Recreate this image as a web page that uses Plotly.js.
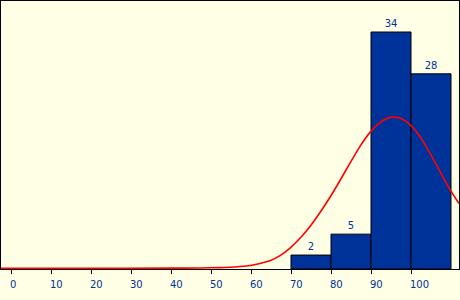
<!DOCTYPE html>
<html>
<head>
<meta charset="utf-8">
<script src="https://cdn.plot.ly/plotly-3.0.1.min.js"></script>
<style>
html,body{margin:0;padding:0;background:#FFFFE5;}
#chart{width:460px;height:300px;}
</style>
</head>
<body>
<div id="chart"></div>
<script>
// Histogram bins (centers), counts
var binCenters = [75, 85, 95, 105];
var binCounts = [2, 5, 34, 28];
var binWidth = [10, 10, 10, 10];

// Fitted curve points
var curveX = [-2.5, 20, 40, 47.25, 52, 54.75, 57.25, 59.75, 62.25, 64.75, 67.25, 69.75, 72.25, 74.75, 77.25, 79.75, 82.25, 84.75, 87.25, 89.75, 92.25, 94.75, 97.25, 99.75, 102.25, 104.75, 107.25, 109.75, 112];
var curveY = [0.1, 0.1, 0.12, 0.15, 0.2, 0.25, 0.35, 0.5, 0.8, 1.19, 1.91, 3.0, 4.4, 6.1, 8.1, 10.3, 12.7, 15.2, 17.6, 19.6, 21.0, 21.75, 21.65, 20.7, 19.0, 16.6, 14.0, 11.4, 9.4];

// Axis ticks
var tickVals = [0, 10, 20, 30, 40, 50, 60, 70, 80, 90, 100];
var tickText = ['0', '10', '20', '30', '40', '50', '60', '70', '80', '90', '100'];

var blue = '#003399';
var bg = '#FFFFE5';

var traces = [
  {
    type: 'bar',
    x: binCenters,
    y: binCounts,
    width: binWidth,
    marker: {color: blue, line: {color: '#000000', width: 1}},
    text: binCounts.map(String),
    textposition: 'outside',
    textfont: {family: 'DejaVu Sans', size: 10, color: blue},
    cliponaxis: false,
    hoverinfo: 'none'
  },
  {
    type: 'scatter',
    mode: 'lines',
    x: curveX,
    y: curveY,
    line: {color: '#FF0000', width: 1.6, shape: 'spline', smoothing: 0.6},
    hoverinfo: 'none'
  }
];

var layout = {
  width: 460,
  height: 300,
  margin: {l: 1, r: 1, t: 1, b: 31, pad: 0},
  paper_bgcolor: bg,
  plot_bgcolor: bg,
  showlegend: false,
  bargap: 0,
  xaxis: {
    range: [-2.5, 112],
    tickmode: 'array',
    tickvals: tickVals,
    ticktext: tickText,
    ticks: 'outside',
    ticklen: 4,
    tickwidth: 1,
    tickcolor: '#000000',
    ticklabelposition: 'outside right',
    ticklabelshift: -2,
    ticklabelstandoff: 6,
    tickfont: {family: 'DejaVu Sans', size: 10, color: blue},
    showline: true,
    linecolor: '#000000',
    linewidth: 1,
    mirror: true,
    showgrid: false,
    zeroline: false,
    fixedrange: true
  },
  yaxis: {
    range: [0, 38.45],
    showticklabels: false,
    ticks: '',
    showline: true,
    linecolor: '#000000',
    linewidth: 1,
    mirror: true,
    showgrid: false,
    zeroline: false,
    fixedrange: true
  }
};

Plotly.newPlot('chart', traces, layout, {displayModeBar: false, staticPlot: true});
</script>
</body>
</html>
